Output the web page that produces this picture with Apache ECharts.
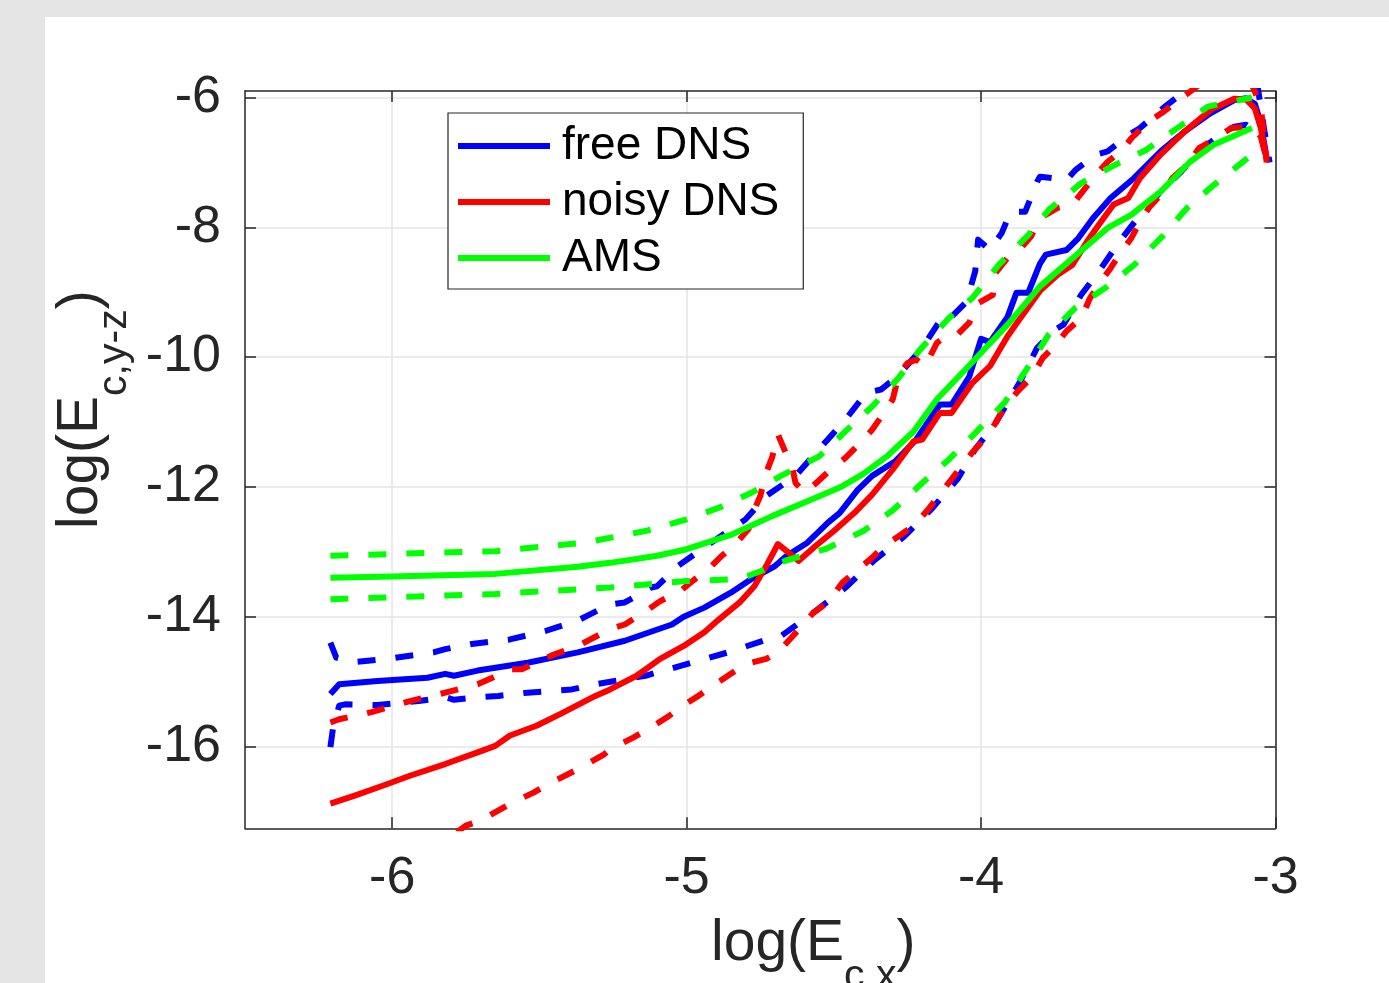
<!DOCTYPE html>
<html>
<head>
<meta charset="utf-8">
<script src="https://cdn.jsdelivr.net/npm/echarts@6/dist/echarts.min.js"></script>
<style>
  html, body { margin:0; padding:0; background:#e5e5e5; width:1389px; height:983px; overflow:hidden; }
  #paper { position:absolute; left:45px; top:17px; width:1344px; height:966px; background:#ffffff; }
  #chart { position:absolute; left:0; top:0; width:1389px; height:983px; }
</style>
</head>
<body>
<div id="paper"></div>
<div id="chart"></div>
<script>
// ---- tick values ----
const xTicks = [-6, -5, -4, -3];
const yTicks = [-16, -14, -12, -10, -8, -6];

// ---- legend labels ----
const legendNames = ['free DNS', 'noisy DNS', 'AMS'];

// ---- free DNS (blue) ----
const freeMean = [[-6.21,-15.19],[-6.18,-15.04],[-6.05,-14.99],[-5.88,-14.94],[-5.82,-14.88],[-5.79,-14.91],[-5.71,-14.83],[-5.54,-14.71],[-5.37,-14.55],[-5.21,-14.37],[-5.05,-14.12],[-5.01,-14.00],[-4.94,-13.86],[-4.85,-13.63],[-4.78,-13.42],[-4.70,-13.22],[-4.66,-13.06],[-4.59,-12.86],[-4.52,-12.55],[-4.48,-12.40],[-4.42,-12.05],[-4.37,-11.83],[-4.29,-11.60],[-4.22,-11.27],[-4.14,-10.73],[-4.10,-10.73],[-4.04,-10.30],[-4.00,-9.72],[-3.97,-9.77],[-3.91,-9.38],[-3.88,-9.01],[-3.84,-9.01],[-3.80,-8.56],[-3.78,-8.42],[-3.71,-8.35],[-3.67,-8.17],[-3.62,-7.86],[-3.56,-7.55],[-3.48,-7.24],[-3.39,-6.83],[-3.31,-6.53],[-3.22,-6.24],[-3.14,-6.04],[-3.10,-6.01],[-3.07,-6.10],[-3.05,-6.40],[-3.03,-6.93]];
const freeUpper = [[-6.21,-14.40],[-6.19,-14.63],[-6.13,-14.70],[-6.00,-14.64],[-5.86,-14.55],[-5.82,-14.50],[-5.73,-14.42],[-5.60,-14.35],[-5.48,-14.22],[-5.37,-14.06],[-5.34,-13.99],[-5.26,-13.81],[-5.21,-13.78],[-5.12,-13.55],[-5.10,-13.53],[-5.03,-13.22],[-4.92,-12.87],[-4.80,-12.50],[-4.73,-12.14],[-4.63,-11.83],[-4.55,-11.42],[-4.46,-10.96],[-4.39,-10.55],[-4.34,-10.50],[-4.28,-10.28],[-4.20,-9.86],[-4.13,-9.37],[-4.11,-9.42],[-4.05,-9.15],[-4.02,-8.68],[-4.01,-8.19],[-3.97,-8.35],[-3.93,-8.09],[-3.90,-7.76],[-3.85,-7.76],[-3.81,-7.30],[-3.80,-7.22],[-3.71,-7.27],[-3.68,-7.12],[-3.61,-6.88],[-3.57,-6.83],[-3.50,-6.58],[-3.46,-6.47],[-3.37,-6.12],[-3.31,-5.91],[-3.20,-5.60],[-3.10,-5.55],[-3.06,-5.85],[-3.04,-6.45],[-3.02,-7.00]];
const freeLower = [[-6.21,-16.01],[-6.20,-15.68],[-6.18,-15.37],[-6.16,-15.35],[-6.05,-15.36],[-5.91,-15.30],[-5.82,-15.24],[-5.79,-15.28],[-5.71,-15.24],[-5.64,-15.22],[-5.54,-15.17],[-5.39,-15.12],[-5.31,-15.04],[-5.14,-14.91],[-5.00,-14.73],[-4.86,-14.55],[-4.74,-14.37],[-4.68,-14.30],[-4.57,-13.94],[-4.46,-13.55],[-4.36,-13.12],[-4.26,-12.76],[-4.17,-12.35],[-4.08,-11.88],[-4.02,-11.42],[-3.95,-11.01],[-3.87,-10.40],[-3.81,-9.86],[-3.75,-9.58],[-3.72,-9.50],[-3.66,-9.04],[-3.60,-8.68],[-3.53,-8.22],[-3.46,-7.81],[-3.39,-7.45],[-3.32,-7.14],[-3.26,-6.83],[-3.19,-6.58],[-3.14,-6.45],[-3.10,-6.42],[-3.05,-6.58],[-3.03,-6.93]];

// ---- noisy DNS (red) ----
const noisyMean = [[-6.21,-16.88],[-6.13,-16.76],[-6.03,-16.60],[-5.94,-16.45],[-5.82,-16.27],[-5.71,-16.09],[-5.65,-15.99],[-5.60,-15.83],[-5.51,-15.68],[-5.43,-15.50],[-5.31,-15.22],[-5.26,-15.12],[-5.17,-14.91],[-5.09,-14.65],[-5.01,-14.45],[-4.94,-14.24],[-4.89,-14.04],[-4.82,-13.78],[-4.77,-13.53],[-4.73,-13.22],[-4.69,-12.88],[-4.66,-12.99],[-4.62,-13.14],[-4.57,-12.94],[-4.50,-12.68],[-4.43,-12.40],[-4.37,-12.12],[-4.30,-11.73],[-4.23,-11.30],[-4.20,-11.27],[-4.14,-10.86],[-4.10,-10.86],[-4.03,-10.40],[-3.97,-10.14],[-3.91,-9.68],[-3.87,-9.42],[-3.80,-8.98],[-3.74,-8.73],[-3.69,-8.58],[-3.64,-8.22],[-3.60,-7.96],[-3.55,-7.65],[-3.50,-7.55],[-3.46,-7.24],[-3.39,-6.88],[-3.31,-6.53],[-3.22,-6.19],[-3.14,-6.02],[-3.10,-6.03],[-3.07,-6.17],[-3.05,-6.47],[-3.03,-6.95]];
const noisyUpper = [[-6.21,-15.63],[-6.18,-15.58],[-6.07,-15.47],[-5.94,-15.30],[-5.82,-15.17],[-5.71,-15.04],[-5.66,-14.94],[-5.60,-14.81],[-5.56,-14.81],[-5.46,-14.60],[-5.37,-14.45],[-5.26,-14.19],[-5.21,-14.12],[-5.14,-13.92],[-5.09,-13.76],[-5.02,-13.60],[-4.98,-13.45],[-4.92,-13.24],[-4.88,-13.06],[-4.83,-12.86],[-4.79,-12.65],[-4.77,-12.35],[-4.75,-12.14],[-4.73,-11.78],[-4.71,-11.55],[-4.69,-11.19],[-4.64,-11.73],[-4.63,-11.94],[-4.60,-12.09],[-4.56,-11.94],[-4.51,-11.73],[-4.46,-11.55],[-4.41,-11.32],[-4.37,-11.12],[-4.33,-10.86],[-4.30,-10.65],[-4.28,-10.28],[-4.25,-10.09],[-4.22,-10.04],[-4.19,-10.14],[-4.15,-9.78],[-4.12,-9.68],[-4.08,-9.65],[-4.04,-9.47],[-4.01,-9.17],[-3.96,-9.04],[-3.95,-8.70],[-3.91,-8.47],[-3.87,-8.35],[-3.83,-8.14],[-3.80,-7.86],[-3.74,-7.70],[-3.69,-7.65],[-3.65,-7.42],[-3.61,-7.19],[-3.57,-6.99],[-3.52,-6.81],[-3.49,-6.63],[-3.43,-6.37],[-3.38,-6.22],[-3.33,-6.04],[-3.29,-5.91],[-3.20,-5.60],[-3.10,-5.60],[-3.07,-5.91],[-3.05,-6.14],[-3.04,-6.55],[-3.03,-7.00]];
const noisyLower = [[-5.78,-17.32],[-5.75,-17.22],[-5.70,-17.14],[-5.63,-16.96],[-5.59,-16.86],[-5.52,-16.71],[-5.47,-16.58],[-5.40,-16.42],[-5.35,-16.30],[-5.28,-16.12],[-5.26,-16.04],[-5.18,-15.86],[-5.13,-15.73],[-5.06,-15.53],[-5.03,-15.42],[-4.96,-15.22],[-4.92,-15.09],[-4.85,-14.88],[-4.80,-14.73],[-4.73,-14.65],[-4.69,-14.55],[-4.62,-14.20],[-4.57,-13.94],[-4.52,-13.78],[-4.47,-13.47],[-4.43,-13.32],[-4.37,-13.09],[-4.33,-12.91],[-4.28,-12.76],[-4.23,-12.60],[-4.18,-12.35],[-4.15,-12.17],[-4.10,-11.88],[-4.07,-11.70],[-4.03,-11.47],[-3.98,-11.22],[-3.95,-11.01],[-3.92,-10.76],[-3.87,-10.50],[-3.83,-10.32],[-3.79,-10.01],[-3.75,-9.83],[-3.71,-9.60],[-3.66,-9.40],[-3.63,-9.09],[-3.60,-8.88],[-3.56,-8.63],[-3.53,-8.42],[-3.49,-8.17],[-3.46,-7.91],[-3.43,-7.70],[-3.38,-7.45],[-3.35,-7.24],[-3.30,-7.04],[-3.26,-6.78],[-3.21,-6.65],[-3.15,-6.47],[-3.08,-6.45],[-3.05,-6.60],[-3.03,-6.96]];

// ---- AMS (green) ----
const amsMean = [[-6.21,-13.40],[-6.00,-13.38],[-5.65,-13.34],[-5.37,-13.23],[-5.26,-13.17],[-5.10,-13.06],[-5.00,-12.96],[-4.85,-12.74],[-4.71,-12.45],[-4.59,-12.22],[-4.48,-12.01],[-4.40,-11.80],[-4.32,-11.53],[-4.23,-11.15],[-4.15,-10.65],[-4.03,-10.08],[-3.91,-9.50],[-3.80,-8.91],[-3.67,-8.40],[-3.57,-8.01],[-3.49,-7.81],[-3.39,-7.45],[-3.29,-6.99],[-3.21,-6.73],[-3.08,-6.47]];
const amsUpper = [[-6.21,-13.06],[-5.65,-12.99],[-5.35,-12.86],[-5.14,-12.68],[-5.00,-12.50],[-4.89,-12.32],[-4.78,-12.09],[-4.68,-11.83],[-4.55,-11.53],[-4.46,-11.14],[-4.37,-10.76],[-4.28,-10.32],[-4.21,-9.90],[-4.11,-9.40],[-4.03,-9.09],[-3.94,-8.58],[-3.84,-8.12],[-3.77,-7.73],[-3.66,-7.32],[-3.55,-7.05],[-3.44,-6.81],[-3.33,-6.46],[-3.23,-6.14],[-3.08,-6.00]];
const amsLower = [[-6.21,-13.73],[-5.65,-13.65],[-5.26,-13.55],[-5.00,-13.45],[-4.82,-13.42],[-4.75,-13.30],[-4.66,-13.13],[-4.53,-12.96],[-4.40,-12.68],[-4.30,-12.36],[-4.20,-11.94],[-4.11,-11.58],[-4.02,-11.17],[-3.92,-10.70],[-3.84,-10.15],[-3.77,-9.65],[-3.68,-9.24],[-3.58,-8.94],[-3.48,-8.58],[-3.38,-8.12],[-3.30,-7.70],[-3.21,-7.35],[-3.08,-6.88]];

const FONT = '"Liberation Sans", Arial, Helvetica, sans-serif';
const INK = '#262626';
const BLUE = '#0000ff', RED = '#ff0000', GREEN = '#00ff00';

function line(name, data, color, dashed) {
  return {
    type: 'line', name: name, data: data,
    xAxisIndex: 0, yAxisIndex: 0,
    showSymbol: false, symbol: 'none', clip: true,
    lineStyle: { color: color, width: 6, type: dashed ? [18, 20] : 'solid', cap: 'butt', join: 'round' },
    itemStyle: { color: color },
    emphasis: { disabled: true },
    animation: false
  };
}

const tickStyle = { color: INK, width: 1.5 };
const axisLineStyle = { color: INK, width: 1.5 };

const chart = echarts.init(document.getElementById('chart'), null, { renderer: 'canvas' });
chart.setOption({
  backgroundColor: 'transparent',
  animation: false,
  grid: { left: 245, right: 113.5, top: 91, bottom: 154.7, containLabel: false, outerBoundsMode: 'none' },
  legend: {
    data: legendNames,
    orient: 'vertical',
    left: 448, top: 113,
    padding: [5, 24, 3, 10],
    itemGap: 0,
    itemWidth: 92, itemHeight: 6,
    icon: 'rect',
    backgroundColor: '#ffffff',
    borderColor: INK, borderWidth: 1.2,
    textStyle: { fontFamily: FONT, fontSize: 46, color: '#000000', lineHeight: 56, padding: [0, 0, 0, 7] },
    selectedMode: false
  },
  xAxis: [{
    type: 'value', min: -6.5, max: -3, position: 'bottom',
    axisLine: { show: true, onZero: false, lineStyle: axisLineStyle },
    axisTick: { show: true, inside: true, length: 11, customValues: xTicks, lineStyle: tickStyle },
    axisLabel: { customValues: xTicks, margin: 24, fontSize: 52, fontFamily: FONT, color: INK, formatter: v => String(v) },
    splitLine: { show: true, lineStyle: { color: '#e5e5e5', width: 1.5 } },
    name: '{a|log(E}{b|c,x}{a|)}',
    nameLocation: 'middle', nameGap: 87,
    nameTextStyle: {
      padding: [0, 0, 0, 106],
      rich: {
        a: { fontFamily: FONT, fontSize: 57, lineHeight: 57, color: INK, verticalAlign: 'top' },
        b: { fontFamily: FONT, fontSize: 41, lineHeight: 41, color: INK, verticalAlign: 'top', padding: [41, 0, 0, 0] }
      }
    }
  }, {
    type: 'value', min: -6.5, max: -3, position: 'top',
    axisLine: { show: true, onZero: false, lineStyle: axisLineStyle },
    axisTick: { show: true, inside: true, length: 11, customValues: xTicks, lineStyle: tickStyle },
    axisLabel: { show: false },
    splitLine: { show: false }
  }],
  yAxis: [{
    type: 'value', min: -17.26, max: -5.9, position: 'left',
    axisLine: { show: true, onZero: false, lineStyle: axisLineStyle },
    axisTick: { show: true, inside: true, length: 11, customValues: yTicks, lineStyle: tickStyle },
    axisLabel: { customValues: yTicks, margin: 24, fontSize: 52, fontFamily: FONT, color: INK, formatter: v => String(v) },
    splitLine: { show: true, lineStyle: { color: '#e5e5e5', width: 1.5 } },
    name: '{a|log(E}{b|c,y-z}{a|)}',
    nameLocation: 'middle', nameGap: 113, nameRotate: 90,
    nameTextStyle: {
      padding: [0, 0, 0, 100],
      rich: {
        a: { fontFamily: FONT, fontSize: 57, lineHeight: 57, color: INK, verticalAlign: 'top' },
        b: { fontFamily: FONT, fontSize: 41, lineHeight: 41, color: INK, verticalAlign: 'top', padding: [41, 0, 0, 0] }
      }
    }
  }, {
    type: 'value', min: -17.26, max: -5.9, position: 'right',
    axisLine: { show: true, onZero: false, lineStyle: axisLineStyle },
    axisTick: { show: true, inside: true, length: 11, customValues: yTicks, lineStyle: tickStyle },
    axisLabel: { show: false },
    splitLine: { show: false }
  }],
  series: [
    line('free DNS', freeMean, BLUE, false),
    line('free DNS upper', freeUpper, BLUE, true),
    line('free DNS lower', freeLower, BLUE, true),
    line('noisy DNS', noisyMean, RED, false),
    line('noisy DNS upper', noisyUpper, RED, true),
    line('noisy DNS lower', noisyLower, RED, true),
    line('AMS', amsMean, GREEN, false),
    line('AMS upper', amsUpper, GREEN, true),
    line('AMS lower', amsLower, GREEN, true)
  ]
});
</script>
</body>
</html>
